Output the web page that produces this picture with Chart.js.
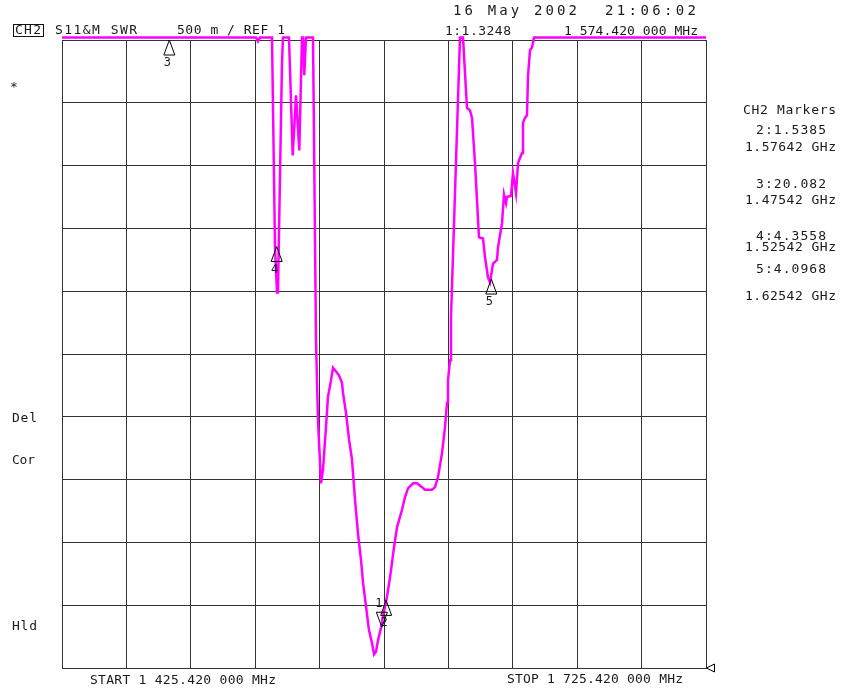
<!DOCTYPE html>
<html>
<head>
<meta charset="utf-8">
<script src="https://cdn.jsdelivr.net/npm/chart.js@4.4.1/dist/chart.umd.min.js"></script>
<style>
  body { margin: 0; background: #fff; }
  canvas { display: block; }
</style>
</head>
<body>
<canvas id="swrChart" width="841" height="690"></canvas>
<script>
// sweep: 1425.42 .. 1725.42 MHz, 30 MHz/div, SWR 500 m/div from REF 1
const startMHz = 1425.42;
const stopMHz = 1725.42;
const divMHz = 30;
const refSwr = 1;
const topSwr = 6;
const divSwr = 0.5;

// trace; 6.02 = clipped above the top line
const freqMHz = [
  1425.42, 1515.79, 1516.72, 1517.66, 1523.25, 1524.64, 1525.58, 1526.04, 1527.90, 1528.37,
  1531.16, 1532.89, 1534.43, 1535.96, 1537.22, 1537.69, 1538.29, 1539.08, 1542.35, 1543.74,
  1544.67, 1546.07, 1547.00, 1548.40, 1549.33, 1550.73, 1551.66, 1553.06, 1554.46, 1555.85,
  1556.32, 1557.72, 1559.12, 1560.51, 1561.91, 1563.31, 1564.71, 1565.64, 1567.04, 1568.43,
  1569.83, 1570.76, 1571.69, 1572.63, 1574.02, 1574.95, 1576.82, 1578.22, 1580.08, 1581.48,
  1583.81, 1585.20, 1586.60, 1588.93, 1590.79, 1593.12, 1594.52, 1597.78, 1599.18, 1600.58,
  1602.44, 1603.84, 1604.77, 1605.23, 1606.17, 1606.63, 1610.82, 1612.22, 1614.08, 1615.48,
  1616.42, 1617.81, 1619.67, 1621.54, 1622.47, 1623.87, 1624.80, 1626.20, 1628.06, 1628.53,
  1630.39, 1631.32, 1632.25, 1632.72, 1634.58, 1635.51, 1636.91, 1637.84, 1638.77, 1639.71,
  1640.17, 1641.10, 1642.03, 1642.50, 1643.43, 1644.36, 1645.30, 1725.42
];
const swr = [
  6.02, 6.02, 5.99, 6.02, 6.02, 4.35, 3.99, 4.01, 5.82, 6.02,
  6.02, 5.08, 5.56, 5.12, 6.02, 6.02, 5.72, 6.02, 6.02, 3.61,
  2.97, 2.47, 2.58, 2.92, 3.16, 3.29, 3.39, 3.36, 3.33, 3.27,
  3.19, 3.03, 2.82, 2.66, 2.34, 2.07, 1.86, 1.68, 1.49, 1.30,
  1.20, 1.11, 1.13, 1.22, 1.32, 1.41, 1.57, 1.72, 1.96, 2.12,
  2.26, 2.36, 2.43, 2.47, 2.47, 2.44, 2.42, 2.42, 2.44, 2.52,
  2.71, 2.92, 3.11, 3.29, 3.45, 3.79, 6.02, 6.02, 5.46, 5.44,
  5.38, 5.02, 4.43, 4.42, 4.27, 4.11, 4.07, 4.22, 4.25, 4.35,
  4.54, 4.77, 4.70, 4.75, 4.76, 4.94, 4.78, 5.02, 5.06, 5.10,
  5.34, 5.38, 5.40, 5.71, 5.92, 5.94, 6.02, 6.02
];

// markers
const markerIds = ['1', '2', '3', '4', '5'];
const markerMHz = [1574.42, 1576.42, 1475.42, 1525.42, 1625.42];
const markerSwr = [1.3248, 1.5385, 20.082, 4.3558, 4.0968];

const gridX = [];
for (let i = 0; i <= 10; i++) gridX.push(startMHz + i * divMHz);
const gridY = [];
for (let i = 0; i <= 10; i++) gridY.push(refSwr + i * divSwr);

const MONO = '"DejaVu Sans Mono", "Liberation Mono", monospace';

// draw text stretched to the width it has on the screen
function spaced(ctx, s, x, y, w) {
  ctx.letterSpacing = '0px';
  const nat = ctx.measureText(s).width;
  const ls = s.length > 1 ? (w - nat) / (s.length - 1) : 0;
  ctx.letterSpacing = ls.toFixed(2) + 'px';
  ctx.fillText(s, x, y);
  ctx.letterSpacing = '0px';
}

const screenText = {
  id: 'screenText',
  afterDraw(chart) {
    const ctx = chart.ctx;
    const xs = chart.scales.x, ys = chart.scales.y;
    const area = chart.chartArea;
    ctx.save();
    ctx.fillStyle = '#1a1a1a';
    ctx.textBaseline = 'middle';
    ctx.textAlign = 'left';
    ctx.font = '13px ' + MONO;

    // header
    ctx.strokeStyle = '#111';
    ctx.lineWidth = 1;
    ctx.strokeRect(13.5, 24.5, 30, 12);
    spaced(ctx, 'CH2', 15, 31, 26);
    spaced(ctx, 'S11&M SWR', 55, 31, 82);
    spaced(ctx, '500 m / REF 1', 177, 31, 108);
    spaced(ctx, '1:1.3248', 445, 32, 66);
    spaced(ctx, '1 574.420 000 MHz', 564, 32, 134);
    ctx.font = '14px ' + MONO;
    spaced(ctx, '16 May 2002', 453, 11, 124);
    spaced(ctx, '21:06:02', 605, 11, 91);

    // left annotations
    ctx.font = '13px ' + MONO;
    ctx.fillText('*', 10, 88);
    spaced(ctx, 'Del', 12, 419, 25);
    spaced(ctx, 'Cor', 12, 461, 23);
    spaced(ctx, 'Hld', 12, 627, 25);

    // footer
    spaced(ctx, 'START 1 425.420 000 MHz', 90, 681, 186);
    spaced(ctx, 'STOP 1 725.420 000 MHz', 507, 680, 176);

    // marker table
    spaced(ctx, 'CH2 Markers', 743, 111, 93);
    const rows = [[131, 148], [185, 201], [237, 248], [270, 297]];
    for (let i = 1; i < markerIds.length; i++) {
      const r = rows[i - 1];
      spaced(ctx, markerIds[i] + ':' + markerSwr[i], 756, r[0], 70);
      spaced(ctx, (markerMHz[i] / 1000).toFixed(5) + ' GHz', 745, r[1], 91);
    }

    // marker triangles
    ctx.strokeStyle = '#000';
    ctx.lineWidth = 1;
    ctx.font = '12px ' + MONO;
    ctx.textAlign = 'center';
    for (let i = 0; i < markerIds.length; i++) {
      const px = xs.getPixelForValue(markerMHz[i]);
      const py = ys.getPixelForValue(Math.min(markerSwr[i], topSwr));
      const down = i === 0; // active marker points down
      const h = down ? -15 : 15;
      ctx.beginPath();
      ctx.moveTo(px, py);
      ctx.lineTo(px - 5.5, py + h);
      ctx.lineTo(px + 5.5, py + h);
      ctx.closePath();
      ctx.stroke();
      const ly = down ? py + h - 8 : py + h + 8;
      ctx.fillText(markerIds[i], px - 2 - (down ? 1 : 0), ly);
    }

    // reference level arrow
    const ry = ys.getPixelForValue(refSwr);
    ctx.beginPath();
    ctx.moveTo(area.right + 0.5, ry);
    ctx.lineTo(area.right + 8.5, ry - 4);
    ctx.lineTo(area.right + 8.5, ry + 4);
    ctx.closePath();
    ctx.stroke();
    ctx.restore();
  }
};

new Chart(document.getElementById('swrChart'), {
  type: 'line',
  data: {
    datasets: [{
      data: freqMHz.map((f, i) => ({ x: f, y: swr[i] })),
      borderColor: '#ff00ff',
      borderWidth: 2.5,
      pointRadius: 0,
      tension: 0,
      clip: false
    }]
  },
  options: {
    responsive: false,
    animation: false,
    layout: { padding: { left: 62, top: 40, right: 135, bottom: 22 } },
    plugins: { legend: { display: false }, tooltip: { enabled: false } },
    scales: {
      x: {
        type: 'linear',
        min: startMHz,
        max: stopMHz,
        afterBuildTicks: s => { s.ticks = gridX.map(v => ({ value: v })); },
        ticks: { display: false },
        grid: { color: '#333', lineWidth: 1, drawTicks: false },
        border: { color: '#333' }
      },
      y: {
        min: refSwr,
        max: topSwr,
        afterBuildTicks: s => { s.ticks = gridY.map(v => ({ value: v })); },
        ticks: { display: false },
        grid: { color: '#333', lineWidth: 1, drawTicks: false },
        border: { color: '#333' }
      }
    }
  },
  plugins: [screenText]
});
</script>
</body>
</html>
